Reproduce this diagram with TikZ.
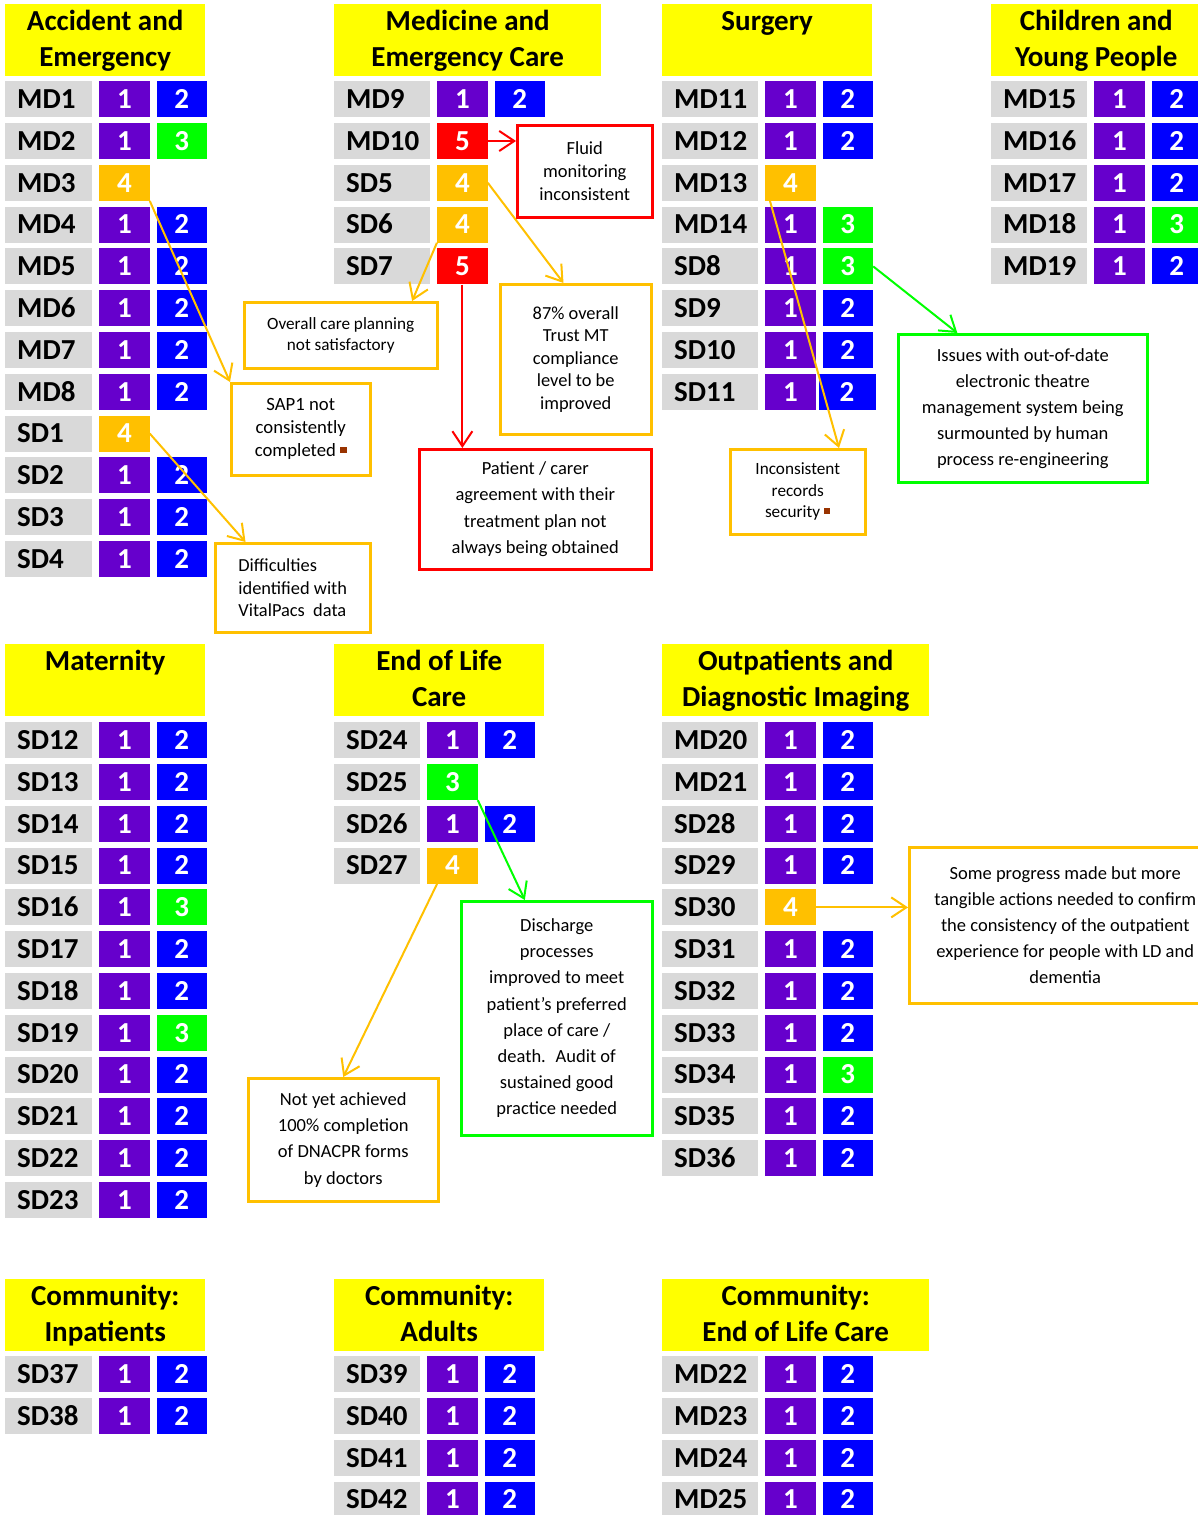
\documentclass[tikz,border=0pt]{standalone}
\usepackage{fontspec}
\setmainfont{Carlito}
\usepackage{tikz}
\usetikzlibrary{calc,positioning,arrows.meta}
\definecolor{hdryellow}{HTML}{FFFF00}
\definecolor{labgrey}{HTML}{D9D9D9}
\definecolor{gpurple}{HTML}{6600CC}
\definecolor{gblue}{HTML}{0000FF}
\definecolor{ggreen}{HTML}{00FF00}
\definecolor{gamber}{HTML}{FFC000}
\definecolor{gred}{HTML}{FF0000}
\definecolor{sqbrown}{HTML}{993300}
\newcommand\cellfont{\fontsize{29}{34}\selectfont\bfseries}
\newcommand\hdrfont{\fontsize{29}{36}\selectfont\bfseries}
\def\hup{\rule{0pt}{26.7pt}}
\def\hdn{\rule[-9.3pt]{0pt}{9.3pt}}
\def\sq{\textcolor{sqbrown}{\rule[3.5pt]{6.5pt}{6.5pt}}}
\def\mdrow(#1)(#2)[#3]#4#5#6{%
	\node[lab=#3] (#1) at (#2) {#4};
	\node[grade, g#5, right=6.5pt of #1] (#1a) {#5};
	\ifx\relax#6\relax\else\node[grade, g#6, right=6.5pt of #1a] (#1b) {#6};\fi}

\begin{document}
\begin{tikzpicture}[x=1pt, y=-1pt,
	cell/.style={anchor=north west, inner sep=0pt, minimum height=36pt, text height=18.7pt, text depth=0pt, font=\cellfont},
	lab/.style={cell, fill=labgrey, inner xsep=12pt, text width=#1, align=left},
	grade/.style={cell, minimum width=50.5pt, text=white},
	g1/.style={fill=gpurple}, g2/.style={fill=gblue}, g3/.style={fill=ggreen},
	g4/.style={fill=gamber}, g5/.style={fill=gred},
	hdr/.style={anchor=north west, fill=hdryellow, inner sep=0pt, minimum width=#1, minimum height=72pt, align=center, font=\hdrfont},
	note/.style={draw=#1, line width=2.5pt, inner sep=0pt, anchor=north west, align=center},
	conn/.style={draw=#1, line width=2pt, -{Straight Barb[length=15pt,width=20pt]}}]
		%%%%% START %%%%%
		\useasboundingbox (0,0) rectangle (1198,1515);
		
		% headers
		\node[hdr=200pt] (hae) at (5,4) {\hup Accident and\\Emergency\hdn};
		\node[hdr=267pt] (hmed) at (334,4) {\hup Medicine and\\Emergency Care\hdn};
		\node[hdr=210pt] (hsurg) at (662,4) {\hup Surgery\\\hdn};
		\node[hdr=210pt] (hcyp) at (991,4) {\hup Children and\\Young People\hdn};
		\node[hdr=200pt] (hmat) at (5,644) {\hup Maternity\\\hdn};
		\node[hdr=210pt] (heol) at (334,644) {\hup End of Life\\Care\hdn};
		\node[hdr=267pt] (hopd) at (662,644) {\hup Outpatients and\\Diagnostic Imaging\hdn};
		\node[hdr=200pt] (hcin) at (5,1279) {\hup Community:\\Inpatients\hdn};
		\node[hdr=210pt] (hcad) at (334,1279) {\hup Community:\\Adults\hdn};
		\node[hdr=267pt] (hceol) at (662,1279) {\hup Community:\\End of Life Care\hdn};
		
		% accident and emergency
		\mdrow(md1)(5,81)[63pt]{MD1}{1}{2}
		\mdrow(md2)(5,122.8)[63pt]{MD2}{1}{3}
		\mdrow(md3)(5,164.6)[63pt]{MD3}{4}{}
		\mdrow(md4)(5,206.4)[63pt]{MD4}{1}{2}
		\mdrow(md5)(5,248.2)[63pt]{MD5}{1}{2}
		\mdrow(md6)(5,290)[63pt]{MD6}{1}{2}
		\mdrow(md7)(5,331.8)[63pt]{MD7}{1}{2}
		\mdrow(md8)(5,373.6)[63pt]{MD8}{1}{2}
		\mdrow(sd1)(5,415.4)[63pt]{SD1}{4}{}
		\mdrow(sd2)(5,457.2)[63pt]{SD2}{1}{2}
		\mdrow(sd3)(5,499)[63pt]{SD3}{1}{2}
		\mdrow(sd4)(5,540.8)[63pt]{SD4}{1}{2}
		
		% medicine
		\mdrow(md9)(334,81)[72pt]{MD9}{1}{2}
		\mdrow(md10)(334,122.8)[72pt]{MD10}{5}{}
		\mdrow(sd5)(334,164.6)[72pt]{SD5}{4}{}
		\mdrow(sd6)(334,206.4)[72pt]{SD6}{4}{}
		\mdrow(sd7)(334,248.2)[72pt]{SD7}{5}{}
		
		% surgery
		\mdrow(md11)(662,81)[72pt]{MD11}{1}{2}
		\mdrow(md12)(662,122.8)[72pt]{MD12}{1}{2}
		\mdrow(md13)(662,164.6)[72pt]{MD13}{4}{}
		\mdrow(md14)(662,206.4)[72pt]{MD14}{1}{3}
		\mdrow(sd8)(662,248.2)[72pt]{SD8}{1}{3}
		\mdrow(sd9)(662,290)[72pt]{SD9}{1}{2}
		\mdrow(sd10)(662,331.8)[72pt]{SD10}{1}{2}
		\mdrow(sd11)(662,373.6)[72pt]{SD11}{1}{}
		\node[grade, g2, minimum width=57pt, right=2.5pt of sd11a] (sd11b) {2};
		
		% children and young people
		\mdrow(md15)(991,81)[72pt]{MD15}{1}{2}
		\mdrow(md16)(991,122.8)[72pt]{MD16}{1}{2}
		\mdrow(md17)(991,164.6)[72pt]{MD17}{1}{2}
		\mdrow(md18)(991,206.4)[72pt]{MD18}{1}{3}
		\mdrow(md19)(991,248.2)[72pt]{MD19}{1}{2}
		
		% maternity
		\mdrow(sd12)(5,722)[63pt]{SD12}{1}{2}
		\mdrow(sd13)(5,763.8)[63pt]{SD13}{1}{2}
		\mdrow(sd14)(5,805.6)[63pt]{SD14}{1}{2}
		\mdrow(sd15)(5,847.4)[63pt]{SD15}{1}{2}
		\mdrow(sd16)(5,889.2)[63pt]{SD16}{1}{3}
		\mdrow(sd17)(5,931)[63pt]{SD17}{1}{2}
		\mdrow(sd18)(5,972.8)[63pt]{SD18}{1}{2}
		\mdrow(sd19)(5,1014.6)[63pt]{SD19}{1}{3}
		\mdrow(sd20)(5,1056.4)[63pt]{SD20}{1}{2}
		\mdrow(sd21)(5,1098.2)[63pt]{SD21}{1}{2}
		\mdrow(sd22)(5,1140)[63pt]{SD22}{1}{2}
		\mdrow(sd23)(5,1181.8)[63pt]{SD23}{1}{2}
		
		% end of life
		\mdrow(sd24)(334,722)[62pt]{SD24}{1}{2}
		\mdrow(sd25)(334,763.8)[62pt]{SD25}{3}{}
		\mdrow(sd26)(334,805.6)[62pt]{SD26}{1}{2}
		\mdrow(sd27)(334,847.4)[62pt]{SD27}{4}{}
		
		% outpatients
		\mdrow(md20)(662,722)[72pt]{MD20}{1}{2}
		\mdrow(md21)(662,763.8)[72pt]{MD21}{1}{2}
		\mdrow(sd28)(662,805.6)[72pt]{SD28}{1}{2}
		\mdrow(sd29)(662,847.4)[72pt]{SD29}{1}{2}
		\mdrow(sd30)(662,889.2)[72pt]{SD30}{4}{}
		\mdrow(sd31)(662,931)[72pt]{SD31}{1}{2}
		\mdrow(sd32)(662,972.8)[72pt]{SD32}{1}{2}
		\mdrow(sd33)(662,1014.6)[72pt]{SD33}{1}{2}
		\mdrow(sd34)(662,1056.4)[72pt]{SD34}{1}{3}
		\mdrow(sd35)(662,1098.2)[72pt]{SD35}{1}{2}
		\mdrow(sd36)(662,1140)[72pt]{SD36}{1}{2}
		
		% community
		\mdrow(sd37)(5,1356)[63pt]{SD37}{1}{2}
		\mdrow(sd38)(5,1397.8)[63pt]{SD38}{1}{2}
		\mdrow(sd39)(334,1356)[62pt]{SD39}{1}{2}
		\mdrow(sd40)(334,1397.8)[62pt]{SD40}{1}{2}
		\mdrow(sd41)(334,1439.6)[62pt]{SD41}{1}{2}
		\mdrow(sd42)(334,1481.4)[62pt]{SD42}{1}{2}
		\mdrow(md22)(662,1356)[72pt]{MD22}{1}{2}
		\mdrow(md23)(662,1397.8)[72pt]{MD23}{1}{2}
		\mdrow(md24)(662,1439.6)[72pt]{MD24}{1}{2}
		\mdrow(md25)(662,1481.4)[72pt]{MD25}{1}{2}
		
		% call-outs
		\node[note=gred, minimum width=135pt, minimum height=92pt, font=\fontsize{18.5}{22.7}\selectfont] (fluid) at (516,124) {Fluid\\monitoring\\inconsistent};
		\node[note=gamber, minimum width=151pt, minimum height=150pt, font=\fontsize{18.4}{22.5}\selectfont] (trust) at (499,283) {87\% overall\\Trust MT\\compliance\\level to be\\improved};
		\node[note=gamber, minimum width=193pt, minimum height=66pt, font=\fontsize{17.2}{20.7}\selectfont] (care) at (243,301) {Overall care planning\\not satisfactory};
		\node[note=gamber, minimum width=139pt, minimum height=92pt, font=\fontsize{18.7}{23}\selectfont] (sap) at (230,382) {SAP1 not\\consistently\\completed \sq};
		\node[note=gamber, align=left, minimum width=155pt, minimum height=89pt, font=\fontsize{18.4}{22.5}\selectfont] (diff) at (214,542) {Difficulties\\identified with\\VitalPacs~ data};
		\node[note=gred, minimum width=232pt, minimum height=120pt, font=\fontsize{18.5}{26.3}\selectfont] (patient) at (418,448) {Patient / carer\\agreement with their\\treatment plan not\\always being obtained};
		\node[note=gamber, minimum width=135pt, minimum height=85pt, font=\fontsize{17.2}{21.7}\selectfont] (incons) at (729,448) {Inconsistent\\records\\security \sq};
		\node[note=ggreen, minimum width=249pt, minimum height=148pt, font=\fontsize{18.5}{26}\selectfont] (issues) at (897,333) {Issues with out-of-date\\electronic theatre\\management system being\\surmounted by human\\process re-engineering};
		\node[note=ggreen, minimum width=191pt, minimum height=234pt, font=\fontsize{18.5}{26.2}\selectfont] (disch) at (460,900) {Discharge\\processes\\improved to meet\\patient’s preferred\\place of care /\\death.~ Audit of\\sustained good\\practice needed};
		\node[note=gamber, minimum width=190pt, minimum height=123pt, font=\fontsize{18.5}{26.3}\selectfont] (notyet) at (247,1077) {Not yet achieved\\100\% completion\\of DNACPR forms\\by doctors};
		\node[note=gamber, minimum width=312pt, minimum height=156pt, font=\fontsize{18.5}{26}\selectfont] (prog) at (908,846) {Some progress made but more\\tangible actions needed to confirm\\the consistency of the outpatient\\experience for people with LD and\\dementia};
		
		% arrows
		\draw[conn=gamber] (md3a.south east) -- (sap.north west);
		\draw[conn=gamber] (sd1a.east) -- ($(diff.north west)!0.2!(diff.north east)$);
		\draw[conn=gred] (md10a.east) -- (md10a.east -| fluid.west);
		\draw[conn=gamber] (sd5a.east) -- ($(trust.north west)!0.42!(trust.north east)$);
		\draw[conn=gamber] (sd6a.south west) -- ($(care.north west)!0.865!(care.north east)$);
		\draw[conn=gred] (sd7a.south) -- (sd7a.south |- patient.north);
		\draw[conn=gamber] ($(md13a.south west)!0.1!(md13a.south east)$) -- ($(incons.north west)!0.8!(incons.north east)$);
		\draw[conn=ggreen] (sd8b.east) -- ($(issues.north west)!0.24!(issues.north east)$);
		\draw[conn=ggreen] (sd25a.south east) -- ($(disch.north west)!0.335!(disch.north east)$);
		\draw[conn=gamber] ($(sd27a.south west)!0.2!(sd27a.south east)$) -- (notyet.north);
		\draw[conn=gamber] (sd30a.east) -- (sd30a.east -| prog.west);
		
		%%%%% END %%%%%
	\end{tikzpicture}
\end{document}
